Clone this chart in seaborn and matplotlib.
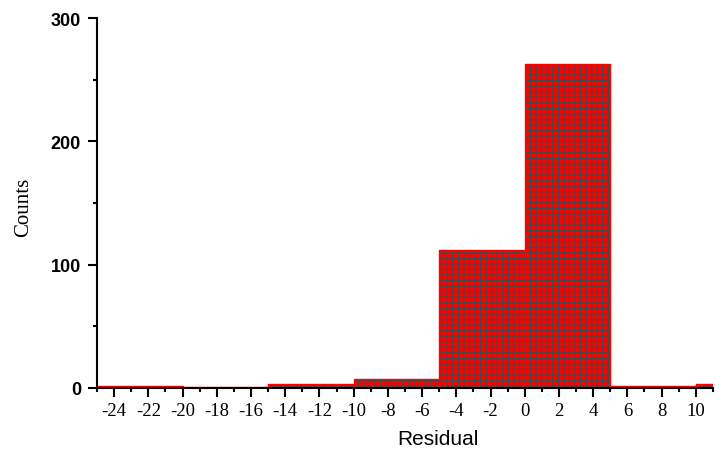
import numpy as np
import matplotlib
matplotlib.use('Agg')
import matplotlib.pyplot as plt
from matplotlib.ticker import MultipleLocator
import seaborn as sns

# histogram bins (width 5) and the counts
bin_edges = [-25, -20, -15, -10, -5, 0, 5, 10, 15]
counts = [2, 1, 3, 7, 112, 263, 2, 3]
bin_centers = [(a + b) / 2 for a, b in zip(bin_edges[:-1], bin_edges[1:])]

sns.set_style('ticks')
plt.rcParams['axes.unicode_minus'] = False
plt.rcParams['hatch.linewidth'] = 0.9
plt.rcParams['text.color'] = 'black'
plt.rcParams['xtick.color'] = 'black'
plt.rcParams['ytick.color'] = 'black'
plt.rcParams['axes.labelcolor'] = 'black'

fig = plt.figure(figsize=(7.26, 4.56), dpi=100)
ax = fig.add_axes([0.1336, 0.147, 0.982 - 0.1336, 0.958 - 0.147])

# filled bars with a dark checker-like hatch
sns.histplot(x=bin_centers, weights=counts, bins=bin_edges, ax=ax,
             color='red', alpha=1, edgecolor='#484848', linewidth=0)
for p in ax.patches:
    p.set_hatch('+++')
# red outline on top
sns.histplot(x=bin_centers, weights=counts, bins=bin_edges, ax=ax,
             fill=False, color='red', linewidth=1.0)

ax.set_xlim(-25, 11)
ax.set_ylim(0, 300)
ax.xaxis.set_major_locator(MultipleLocator(2))
ax.xaxis.set_minor_locator(MultipleLocator(1))
ax.yaxis.set_major_locator(MultipleLocator(100))
ax.yaxis.set_minor_locator(MultipleLocator(50))

ax.tick_params(axis='both', which='major', direction='out', length=6.5, width=1.5, color='black')
ax.tick_params(axis='both', which='minor', direction='out', length=3, width=1.5, color='black')
ax.tick_params(axis='y', which='major', pad=5)

for lab in ax.get_xticklabels():
    lab.set_family('Liberation Serif')
    lab.set_fontsize(13.5)
for lab in ax.get_yticklabels():
    lab.set_family('Liberation Sans')
    lab.set_fontsize(13)
    lab.set_fontweight('bold')

ax.set_xlabel('Residual', family='Liberation Sans', fontsize=15)
ax.xaxis.set_label_coords(0.553, -0.112)
ax.set_ylabel('Counts', family='Liberation Serif', fontsize=15)
ax.yaxis.set_label_coords(-0.103, 0.49)

sns.despine(ax=ax)
for s in ['left', 'bottom']:
    ax.spines[s].set_linewidth(1.5)
    ax.spines[s].set_color('black')

fig.savefig('out.png', dpi=100)
